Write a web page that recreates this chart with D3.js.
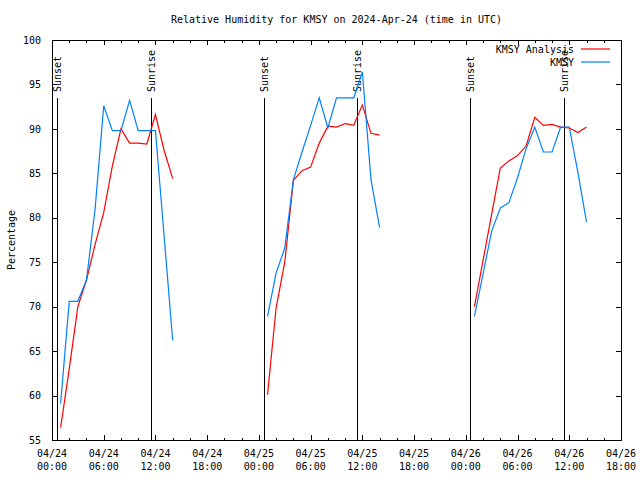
<!DOCTYPE html>
<html>
<head>
<meta charset="utf-8">
<script src="https://cdn.jsdelivr.net/npm/d3@7"></script>
<style>
  body { margin: 0; background: #fff; }
  svg { display: block; }
  text { font-family: "DejaVu Sans Mono", "Liberation Mono", monospace; font-size: 10px; fill: #000; }
</style>
</head>
<body>
<svg id="chart" width="640" height="480"></svg>
<script>
// hours since 2024-04-24 00:00 UTC
const hours = [1, 2, 3, 4, 5, 6, 7, 8, 9, 10, 11, 12, 13, 14,
               25, 26, 27, 28, 29, 30, 31, 32, 33, 34, 35, 36, 37, 38,
               49, 50, 51, 52, 53, 54, 55, 56, 57, 58, 59, 60, 61, 62]

const analysisValues = [56.4, 63.0, 70.0, 73.0, 77.0, 80.6, 85.8, 90.0, 88.4, 88.4, 88.3, 91.6, 87.6, 84.4,
                        60.1, 69.9, 75.0, 84.2, 85.3, 85.7, 88.4, 90.3, 90.2, 90.6, 90.4, 92.7, 89.5, 89.3,
                        70.0, 75.2, 80.4, 85.6, 86.4, 87.0, 88.1, 91.3, 90.4, 90.5, 90.2, 90.1, 89.6, 90.2]

const obsValues = [59.1, 70.6, 70.6, 73.0, 81.0, 92.6, 89.8, 89.8, 93.2, 89.8, 89.8, 89.8, 78.0, 66.2,
                   68.9, 73.8, 76.6, 84.3, 87.4, 90.4, 93.5, 90.1, 93.5, 93.5, 93.5, 96.4, 84.3, 78.9,
                   68.9, 73.7, 78.5, 81.1, 81.7, 84.5, 87.8, 90.2, 87.4, 87.4, 90.2, 90.2, 85.1, 79.5]

const sunLabels = ['Sunset', 'Sunrise', 'Sunset', 'Sunrise', 'Sunset', 'Sunrise']
const sunHours = [0.6, 11.5, 24.6, 35.45, 48.6, 59.45]

const yTicks = [55, 60, 65, 70, 75, 80, 85, 90, 95, 100]

const seriesNames = ['KMSY Analysis', 'KMSY']
const seriesColors = ['#ff0000', '#0080ff']

//layout
const w = 640
const h = 480
const plotLeft = 52
const plotRight = 621
const plotTop = 40
const plotBottom = 440

const start = Date.UTC(2024, 3, 24, 0)
const end = Date.UTC(2024, 3, 26, 18)
const toDate = hr => new Date(start + hr * 3600 * 1000)

const x = d3.scaleUtc().domain([start, end]).range([plotLeft, plotRight])
const y = d3.scaleLinear().domain([55, 100]).range([plotBottom, plotTop])

const svg = d3.select('#chart')

const majorTicks = d3.utcHour.every(6).range(new Date(start), new Date(end + 1))
const minorTicks = d3.utcHour.every(2).range(new Date(start), new Date(end + 1))
  .filter(d => d.getUTCHours() % 6 != 0)

const tickGroup = (axis, tx, ty) => {
  const g = svg.append('g')
    .attr('transform', `translate(${tx}, ${ty})`)
    .attr('shape-rendering', 'crispEdges')
    .call(axis)
  g.select('.domain').remove()
  g.selectAll('text').remove()
  g.selectAll('line').attr('stroke', '#000')
  return g
}

tickGroup(d3.axisBottom(x).tickValues(majorTicks).tickSize(-5), 0, plotBottom)
tickGroup(d3.axisBottom(x).tickValues(minorTicks).tickSize(-2.5), 0, plotBottom)
tickGroup(d3.axisTop(x).tickValues(majorTicks).tickSize(-5), 0, plotTop)
tickGroup(d3.axisTop(x).tickValues(minorTicks).tickSize(-2.5), 0, plotTop)
tickGroup(d3.axisRight(y).tickValues(yTicks).tickSize(-5), plotRight, 0)

const yl = svg.append('g')
  .attr('transform', `translate(${plotLeft}, 0)`)
  .attr('shape-rendering', 'crispEdges')
  .call(d3.axisLeft(y).tickValues(yTicks).tickSize(-5).tickPadding(11))
yl.select('.domain').remove()
yl.selectAll('line').attr('stroke', '#000')
yl.attr('font-family', null).attr('font-size', null)
yl.selectAll('text').attr('fill', '#000')

// x labels, two rows
const xl = svg.append('g')
  .selectAll('text')
  .data(majorTicks)
  .enter()
  .append('text')
  .attr('text-anchor', 'middle')
  .attr('x', d => x(d))
xl.append('tspan')
  .attr('x', d => x(d))
  .attr('y', 456.5)
  .text(d3.utcFormat('%m/%d'))
xl.append('tspan')
  .attr('x', d => x(d))
  .attr('y', 469.5)
  .text(d3.utcFormat('%H:%M'))

// border
svg.append('rect')
  .attr('x', plotLeft)
  .attr('y', plotTop)
  .attr('width', plotRight - plotLeft)
  .attr('height', plotBottom - plotTop)
  .attr('fill', 'none')
  .attr('stroke', '#000')
  .attr('shape-rendering', 'crispEdges')

// sunrise / sunset
const sun = svg.append('g')
  .selectAll('g')
  .data(sunHours)
  .enter()
  .append('g')
sun.append('line')
  .attr('x1', d => x(toDate(d)))
  .attr('x2', d => x(toDate(d)))
  .attr('y1', 98)
  .attr('y2', plotBottom)
  .attr('stroke', '#000')
  .attr('shape-rendering', 'crispEdges')
sun.append('text')
  .attr('transform', d => `translate(${x(toDate(d)) + 3.5}, 92) rotate(-90)`)
  .text((d, i) => sunLabels[i])

// data lines, broken where hours jump
const segments = vals => {
  const segs = []
  let cur = []
  hours.forEach((hr, i) => {
    if (i > 0 && hr - hours[i - 1] > 1) {
      segs.push(cur)
      cur = []
    }
    cur.push([toDate(hr), vals[i]])
  })
  segs.push(cur)
  return segs
}

const line = d3.line().x(d => x(d[0])).y(d => y(d[1]))

;[analysisValues, obsValues].forEach((vals, k) => {
  svg.append('g')
    .selectAll('path')
    .data(segments(vals))
    .enter()
    .append('path')
    .attr('d', line)
    .attr('fill', 'none')
    .attr('stroke', seriesColors[k])
    .attr('stroke-width', 1.2)
})

// legend
const legend = svg.append('g')
  .selectAll('g')
  .data(seriesNames)
  .enter()
  .append('g')
  .attr('transform', (d, i) => `translate(0, ${49 + i * 13})`)
legend.append('text')
  .attr('x', 574)
  .attr('dy', '0.35em')
  .attr('text-anchor', 'end')
  .text(d => d)
legend.append('line')
  .attr('x1', 581)
  .attr('x2', 610)
  .attr('stroke', (d, i) => seriesColors[i])
  .attr('stroke-width', 1.2)

// title and y label
svg.append('text')
  .attr('x', (plotLeft + plotRight) / 2)
  .attr('y', 22.5)
  .attr('text-anchor', 'middle')
  .text('Relative Humidity for KMSY on 2024-Apr-24 (time in UTC)')

svg.append('text')
  .attr('transform', 'translate(15, 240) rotate(-90)')
  .attr('text-anchor', 'middle')
  .text('Percentage')
</script>
</body>
</html>
